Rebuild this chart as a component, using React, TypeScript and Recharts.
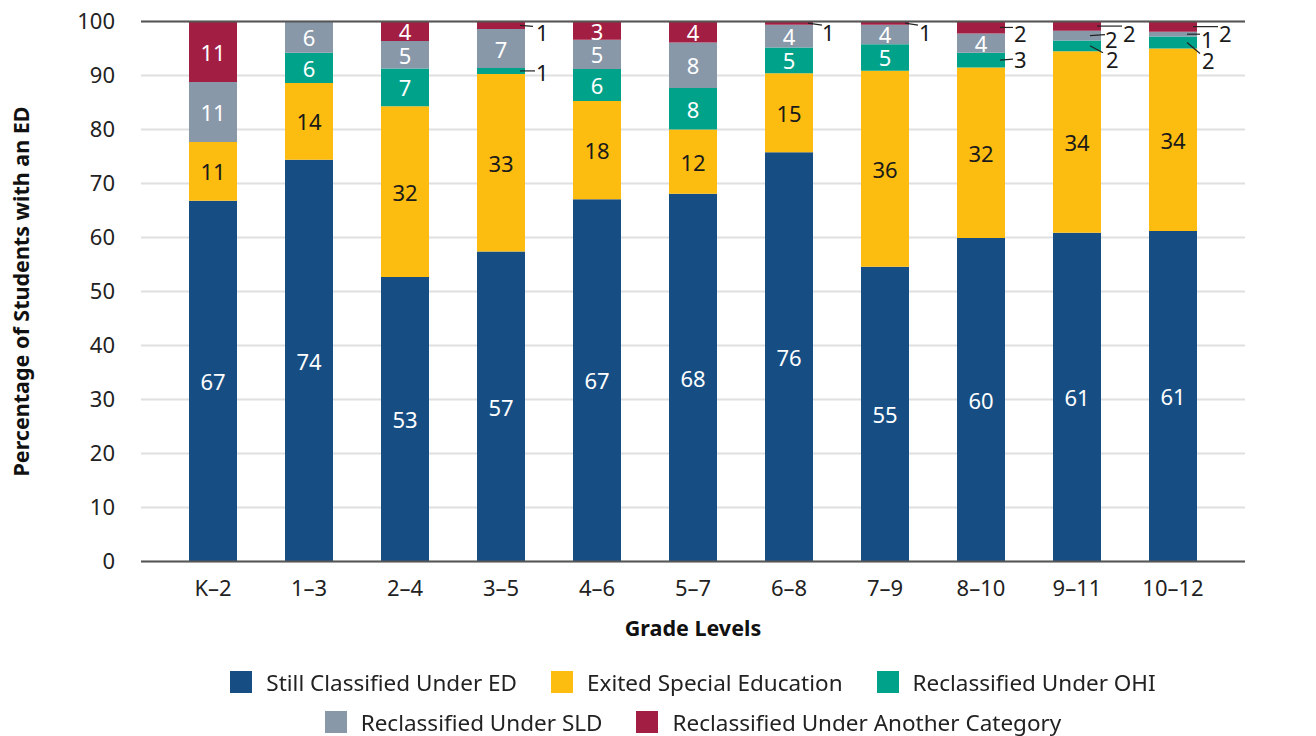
import React from "react";
import {
  BarChart,
  Bar,
  XAxis,
  YAxis,
  CartesianGrid,
  Legend,
  LabelList,
  ReferenceLine,
} from "recharts";

// Grade bands and share (%) of students with an ED by outcome
const grades = ["K–2", "1–3", "2–4", "3–5", "4–6", "5–7", "6–8", "7–9", "8–10", "9–11", "10–12"];
const stillED = [66.8, 74.4, 52.7, 57.4, 67.1, 68.1, 75.8, 54.6, 59.9, 60.9, 61.2];
const exited = [10.9, 14.2, 31.6, 32.9, 18.2, 11.9, 14.6, 36.3, 31.6, 33.6, 33.8];
const ohi = [0, 5.6, 7.0, 1.1, 5.9, 7.7, 4.8, 4.9, 2.7, 2.0, 2.2];
const sld = [11.1, 5.8, 5.1, 7.2, 5.4, 8.4, 4.2, 3.6, 3.6, 1.8, 0.9];
const other = [11.2, 0, 3.6, 1.4, 3.4, 3.9, 0.6, 0.6, 2.2, 1.7, 1.9];
const yTicks = [0, 10, 20, 30, 40, 50, 60, 70, 80, 90, 100];

const SERIES = [
  { key: "ed", name: "Still Classified Under ED", color: "#164e84", text: "#fff" },
  { key: "exited", name: "Exited Special Education", color: "#fdbd10", text: "#1a1a1a" },
  { key: "ohi", name: "Reclassified Under OHI", color: "#00a38a", text: "#fff" },
  { key: "sld", name: "Reclassified Under SLD", color: "#8898a9", text: "#fff" },
  { key: "other", name: "Reclassified Under Another Category", color: "#a21e43", text: "#fff" },
];

const data = grades.map((g, i) => ({
  grade: g,
  ed: stillED[i],
  exited: exited[i],
  ohi: ohi[i],
  sld: sld[i],
  other: other[i],
}));

// thin segments get a leader line + label off to the right of the bar
// x0/x1: line start/end from bar's right edge, y1: line end drop,
// tx/ty: label position (from right edge / segment middle)
const CALLOUTS: Record<string, { x0: number; x1: number; y1: number; tx: number; ty: number }> = {
  "3–5:other": { x0: -5, x1: 8, y1: 1, tx: 11, ty: 7 },
  "3–5:ohi": { x0: -5, x1: 10, y1: 0, tx: 11, ty: 1.5 },
  "6–8:other": { x0: -5, x1: 9, y1: 2, tx: 9, ty: 9 },
  "7–9:other": { x0: -4, x1: 9, y1: 2, tx: 10, ty: 9 },
  "8–10:other": { x0: -5, x1: 8, y1: 0, tx: 9, ty: 5.5 },
  "8–10:ohi": { x0: -5, x1: 8, y1: -1, tx: 9, ty: -1 },
  "9–11:other": { x0: -4, x1: 21, y1: 0, tx: 22, ty: 6.5 },
  "9–11:sld": { x0: -11, x1: 4, y1: -1, tx: 4, ty: 3 },
  "9–11:ohi": { x0: -11, x1: 2, y1: 7, tx: 5, ty: 13.5 },
  "10–12:other": { x0: -4, x1: 21, y1: 0, tx: 22, ty: 6 },
  "10–12:sld": { x0: -10, x1: 3, y1: 0, tx: 4, ty: 4.5 },
  "10–12:ohi": { x0: -10, x1: 3, y1: 11, tx: 5, ty: 17 },
};

const FONT = "'Noto Sans', sans-serif";
const FS = 22;

const segmentLabel = (seriesKey: string, textColor: string) => (props: any) => {
  const { x, y, width, height, value } = props;
  const [grade, raw] = String(value).split("|");
  const v = Number(raw);
  if (!v) return null;
  const label = Math.round(v);
  const mid = Number(y) + Number(height) / 2;
  const right = Number(x) + Number(width);
  const c = CALLOUTS[`${grade}:${seriesKey}`];
  if (c) {
    return (
      <g>
        <line
          x1={right + c.x0}
          y1={mid}
          x2={right + c.x1}
          y2={mid + c.y1}
          stroke="#222"
          strokeWidth={1.2}
        />
        <text
          x={right + c.tx}
          y={mid + c.ty}
          fill="#1a1a1a"
          fontSize={FS}
          dominantBaseline="central"
          textAnchor="start"
        >
          {label}
        </text>
      </g>
    );
  }
  return (
    <text
      x={Number(x) + Number(width) / 2}
      y={mid}
      fill={textColor}
      fontSize={FS}
      textAnchor="middle"
      dominantBaseline="central"
    >
      {label}
    </text>
  );
};

const LegendBox = () => {
  const rows = [SERIES.slice(0, 3), SERIES.slice(3)];
  return (
    <div style={{ fontFamily: FONT, fontSize: 22.5, color: "#222" }}>
      {rows.map((row, r) => (
        <div
          key={r}
          style={{ display: "flex", justifyContent: "center", height: 40, alignItems: "center" }}
        >
          {row.map((s) => (
            <div key={s.key} style={{ display: "flex", alignItems: "center", margin: "0 17px" }}>
              <span
                style={{ width: 22, height: 22, background: s.color, display: "inline-block", marginRight: 14 }}
              />
              <span>{s.name}</span>
            </div>
          ))}
        </div>
      ))}
    </div>
  );
};

const YTitle = (props: any) => {
  const vb = props.viewBox || {};
  const cx = 20;
  const cy = vb.y + vb.height / 2;
  return (
    <text
      x={cx}
      y={cy}
      transform={`rotate(-90, ${cx}, ${cy})`}
      textAnchor="middle"
      dominantBaseline="central"
      fontSize={21.5}
      fontWeight={700}
      fill="#111"
    >
      Percentage of Students with an ED
    </text>
  );
};

const XTitle = (props: any) => {
  const vb = props.viewBox || {};
  return (
    <text
      x={vb.x + vb.width / 2}
      y={vb.y + 66}
      textAnchor="middle"
      dominantBaseline="central"
      fontSize={21.5}
      fontWeight={700}
      fill="#111"
    >
      Grade Levels
    </text>
  );
};

export default function App() {
  return (
    <div
      style={{
        position: "fixed",
        left: 0,
        top: 0,
        width: 1316,
        height: 736,
        background: "#fff",
        fontFamily: FONT,
      }}
    >
      <BarChart
        width={1316}
        height={736}
        data={data}
        barSize={48}
        margin={{ top: 21.5, right: 71, bottom: 114.5, left: 0 }}
      >
        <CartesianGrid vertical={false} stroke="#e0e0e0" strokeWidth={2} />
        <XAxis
          dataKey="grade"
          padding={{ left: 24, right: 24 }}
          interval={0}
          tickLine={false}
          tickSize={0}
          tickMargin={19}
          height={60}
          axisLine={{ stroke: "#555", strokeWidth: 2 }}
          tick={{ fill: "#222", fontSize: FS }}
          label={{ content: XTitle }}
        />
        <YAxis
          width={141}
          domain={[0, 100]}
          allowDataOverflow
          ticks={yTicks}
          axisLine={false}
          tickLine={false}
          tickSize={0}
          tickMargin={26}
          tick={{ fill: "#222", fontSize: FS }}
          label={{ content: YTitle }}
        />
        <Legend
          layout="horizontal"
          verticalAlign="middle"
          align="center"
          wrapperStyle={{ top: 662, left: 141, width: 1104 }}
          content={LegendBox}
        />
        {SERIES.map((s) => (
          <Bar
            key={s.key}
            dataKey={s.key}
            name={s.name}
            stackId="a"
            fill={s.color}
            isAnimationActive={false}
          >
            <LabelList
              dataKey={(row: any) => `${row.grade}|${row[s.key]}`}
              content={segmentLabel(s.key, s.text)}
            />
          </Bar>
        ))}
        <ReferenceLine y={100} stroke="#555" strokeWidth={2} />
      </BarChart>
    </div>
  );
}
